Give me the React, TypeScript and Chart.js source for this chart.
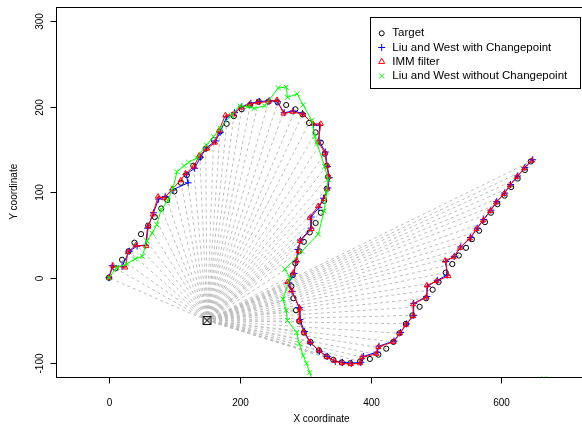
import React, { useEffect, useRef } from 'react';
import { Chart, registerables } from 'chart.js';

Chart.register(...registerables);

// ---- data ----
const targetX = [0,10,20,30,39,49,60,70,80,89,100,110,119,129,139,148,160,170,180,191,203,216,229,244,258,271,285,296,306,316,324,330,333,335,333,329,324,316,307,298,291,285,281,279,282,286,291,298,308,321,333,343,356,369,384,399,412,424,435,444,454,464,475,485,495,504,515,525,535,546,555,566,575,584,594,605,615,625,636,645];
const targetY = [0,11,21,31,41,51,61,71,81,91,101,111,120,131,141,151,161,171,180,189,197,202,206,206,205,202,197,191,181,170,158,145,131,118,104,90,76,64,53,42,31,17,3,-10,-24,-38,-51,-64,-75,-85,-92,-96,-99,-100,-98,-95,-90,-83,-75,-65,-54,-44,-34,-24,-14,-5,6,16,26,35,45,55,65,76,86,96,106,116,126,136];

const lwcX = [0,5,20,31,43,56,59,68,76,86,98,121,118,131,140,149,163,170,180,192,203,217,230,245,257,268,282,296,313,322,321,331,334,337,335,328,321,309,309,293,289,286,283,275,280,291,292,299,308,322,334,346,357,371,385,389,410,413,436,446,455,466,466,486,487,502,517,515,528,538,553,563,573,584,593,605,614,625,636,648];
const lwcY = [0,14,13,31,37,38,58,76,92,95,103,111,121,128,141,152,160,170,188,193,200,204,206,207,206,193,195,192,179,178,160,147,130,117,105,93,82,71,58,44,33,19,5,-6,-16,-35,-49,-63,-76,-86,-92,-98,-99,-100,-99,-92,-87,-80,-74,-64,-54,-44,-30,-22,-10,-3,3,19,25,36,47,58,68,79,89,99,109,119,129,138];

const immX = [0,6,25,29,41,57,60,67,75,85,97,110,117,130,138,150,162,168,178,190,202,215,228,244,257,267,281,297,312,324,320,330,333,336,334,329,320,307,310,292,290,287,282,273,279,292,291,298,307,321,333,345,356,370,384,387,409,412,435,445,454,465,465,485,486,501,519,514,527,537,552,562,572,583,592,604,613,624,635,647];
const immY = [0,14,12,30,38,37,60,74,95,93,104,114,122,130,143,151,158,172,190,191,199,203,205,206,208,192,194,191,180,180,159,146,131,118,104,92,84,70,57,43,31,20,6,-5,-15,-36,-50,-64,-75,-85,-93,-97,-100,-101,-100,-93,-89,-81,-75,-65,-55,-45,-31,-23,-9,-4,2,20,24,35,46,57,67,78,88,98,108,118,128,137];

const lwX = [0,12,27,40,51,58,66,73,80,90,98,104,115,122,134,149,160,170,187,200,212,222,238,259,271,273,288,297,310,315,318,330,335,333,329,320,295,269,277,266,271,273,287,291,297,302,307,312,665];
const lwY = [0,12,16,22,25,43,52,62,80,90,105,124,131,135,140,155,165,175,190,201,200,198,201,222,223,211,215,202,184,165,157,130,115,100,78,51,31,10,0,-25,-38,-50,-64,-77,-91,-100,-111,-124,-118];

const stationX = [150];
const stationY = [-50];

const xTicks = [0, 200, 400, 600];
const yTicks = [-100, 0, 100, 200, 300];
const xLimits = [-81, 731];
const yLimits = [-116.1, 317.1];

const legendLabels = [
  'Target',
  'Liu and West with Changepoint',
  'IMM filter',
  'Liu and West without Changepoint',
];
const xTitle = 'X coordinate';
const yTitle = 'Y coordinate';

const FONT = '"Liberation Sans", Arial, Helvetica, sans-serif';

function pts(xs: number[], ys: number[]) {
  return xs.map((x, i) => ({ x, y: ys[i] }));
}

const rPlugin = {
  id: 'rPlugin',
  afterDraw(chart: any) {
    const { ctx, chartArea: a, scales } = chart;
    const xs = scales.x;
    const ys = scales.y;
    ctx.save();
    ctx.strokeStyle = '#000';
    ctx.fillStyle = '#000';
    ctx.lineWidth = 1;
    const L = Math.round(a.left) + 0.5;
    const T = Math.round(a.top) + 0.5;
    const B = Math.round(a.bottom) + 0.5;
    const R = Math.round(a.right) + 0.5;
    ctx.strokeRect(L, T, R - L, B - T);

    ctx.font = '10px ' + FONT;
    ctx.textAlign = 'center';
    ctx.textBaseline = 'middle';
    xTicks.forEach((v) => {
      const px = Math.round(xs.getPixelForValue(v)) + 0.5;
      ctx.beginPath();
      ctx.moveTo(px, B);
      ctx.lineTo(px, B + 6);
      ctx.stroke();
      ctx.fillText(String(v), px, a.bottom + 26);
    });
    yTicks.forEach((v) => {
      const py = Math.round(ys.getPixelForValue(v)) + 0.5;
      ctx.beginPath();
      ctx.moveTo(L, py);
      ctx.lineTo(L - 6, py);
      ctx.stroke();
      ctx.save();
      ctx.translate(a.left - 16, py);
      ctx.rotate(-Math.PI / 2);
      ctx.fillText(String(v), 0, 0);
      ctx.restore();
    });
    ctx.fillText(xTitle, (a.left + a.right) / 2, 419);
    ctx.save();
    ctx.translate(14, (a.top + a.bottom) / 2);
    ctx.rotate(-Math.PI / 2);
    ctx.fillText(yTitle, 0, 0);
    ctx.restore();

    // legend
    const lx = 370.5, ly = 17.5, lw = 210, lh = 71;
    ctx.fillStyle = '#fff';
    ctx.fillRect(lx, ly, lw, lh);
    ctx.strokeStyle = '#000';
    ctx.strokeRect(lx, ly, lw, lh);
    ctx.font = '11.5px ' + FONT;
    ctx.textAlign = 'left';
    ctx.fillStyle = '#000';
    const mx = 381.7;
    legendLabels.forEach((lab, i) => {
      const yy = 33.3 + i * 14.2;
      ctx.lineWidth = 1;
      ctx.beginPath();
      if (i === 0) {
        ctx.strokeStyle = '#000';
        ctx.arc(mx, yy, 2.5, 0, Math.PI * 2);
      } else if (i === 1) {
        ctx.strokeStyle = '#0000ff';
        ctx.moveTo(mx - 3.5, yy); ctx.lineTo(mx + 3.5, yy);
        ctx.moveTo(mx, yy - 3.5); ctx.lineTo(mx, yy + 3.5);
      } else if (i === 2) {
        ctx.strokeStyle = '#ff0000';
        const r = 3.5;
        ctx.moveTo(mx, yy - r);
        ctx.lineTo(mx + r * 0.866, yy + r * 0.5);
        ctx.lineTo(mx - r * 0.866, yy + r * 0.5);
        ctx.closePath();
      } else {
        ctx.strokeStyle = '#00ff00';
        const r = 2.5;
        ctx.moveTo(mx - r, yy - r); ctx.lineTo(mx + r, yy + r);
        ctx.moveTo(mx + r, yy - r); ctx.lineTo(mx - r, yy + r);
      }
      ctx.stroke();
      ctx.fillStyle = '#000';
      ctx.fillText(lab, 392.3, yy);
    });
    ctx.restore();
  },
};

export default function App() {
  const ref = useRef<HTMLCanvasElement>(null);
  useEffect(() => {
    const canvas = ref.current;
    if (!canvas) return;
    const station = pts(stationX, stationY)[0];
    const rays = targetX.map((x, i) => ({
      data: [station, { x, y: targetY[i] }],
      showLine: true,
      borderColor: '#bebebe',
      borderWidth: 1,
      borderDash: [3, 3],
      pointRadius: 0,
      order: 100,
      clip: 0,
    }));
    const chart = new Chart(canvas, {
      type: 'scatter',
      data: {
        datasets: [
          ...rays,
          {
            label: legendLabels[0],
            data: pts(targetX, targetY),
            showLine: false,
            pointStyle: 'circle',
            pointRadius: 2.6,
            borderColor: '#000',
            backgroundColor: 'rgba(0,0,0,0)',
            borderWidth: 1,
            order: 50,
            clip: 0,
          },
          {
            label: legendLabels[1],
            data: pts(lwcX, lwcY),
            showLine: true,
            pointStyle: 'cross',
            pointRadius: 3.5,
            borderColor: '#0000ff',
            backgroundColor: '#0000ff',
            borderWidth: 1,
            order: 40,
            clip: 0,
          },
          {
            label: legendLabels[2],
            data: pts(immX, immY),
            showLine: true,
            pointStyle: 'triangle',
            pointRadius: 3,
            borderColor: '#ff0000',
            backgroundColor: 'rgba(0,0,0,0)',
            borderWidth: 1,
            order: 30,
            clip: 0,
          },
          {
            label: legendLabels[3],
            data: pts(lwX, lwY),
            showLine: true,
            pointStyle: 'crossRot',
            pointRadius: 3.5,
            borderColor: '#00ff00',
            backgroundColor: '#00ff00',
            borderWidth: 1,
            order: 20,
            clip: 0,
          },
          {
            label: 'station',
            data: pts(stationX, stationY),
            showLine: false,
            pointStyle: 'rect',
            pointRadius: 5.6,
            borderColor: '#000',
            backgroundColor: 'rgba(0,0,0,0)',
            borderWidth: 1,
            order: 10,
            clip: 0,
          },
          {
            label: 'station-x',
            data: pts(stationX, stationY),
            showLine: false,
            pointStyle: 'crossRot',
            pointRadius: 5.6,
            borderColor: '#000',
            backgroundColor: '#000',
            borderWidth: 1,
            order: 9,
            clip: 0,
          },
        ] as any,
      },
      options: {
        animation: false,
        responsive: false,
        devicePixelRatio: 1,
        events: [],
        layout: { padding: { left: 56, top: 4, right: 13, bottom: 48 } },
        plugins: { legend: { display: false }, tooltip: { enabled: false } },
        scales: {
          x: { type: 'linear', display: false, min: xLimits[0], max: xLimits[1] },
          y: { type: 'linear', display: false, min: yLimits[0], max: yLimits[1] },
        },
      } as any,
      plugins: [rPlugin],
    });
    return () => chart.destroy();
  }, []);
  return (
    <div style={{ position: 'fixed', left: 0, top: 0, width: 582, height: 425, overflow: 'hidden', background: '#fff' }}>
      <canvas ref={ref} width={600} height={425} style={{ width: 600, height: 425, display: 'block' }} />
    </div>
  );
}
